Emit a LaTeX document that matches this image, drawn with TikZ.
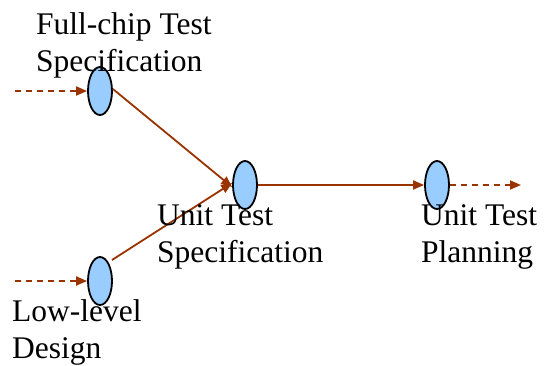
\documentclass[tikz,border=0pt]{standalone}
\usepackage{fontspec}
\setmainfont{Liberation Serif}
\usetikzlibrary{arrows.meta,shapes.geometric}
\definecolor{flow}{HTML}{993300}
\definecolor{bubble}{HTML}{99CCFF}
\begin{document}
\begin{tikzpicture}[x=1pt,y=-1pt,
  stage/.style={ellipse, draw=black, line width=1.8pt, fill=bubble,
    minimum width=24pt, minimum height=48pt, inner sep=0pt},
  flowline/.style={draw=flow, line width=1.8pt, -{Triangle[length=11pt,width=9pt]}},
  feed/.style={flowline, dash pattern=on 6pt off 5pt},
  caption/.style={anchor=base west, inner sep=0pt, align=left,
    font=\fontsize{31.5}{37}\selectfont}]
\useasboundingbox (0,0) rectangle (544,365);
% stage bubbles
\node[stage] (fc) at (100,91) {};
\node[stage] (ut) at (245,185) {};
\node[stage] (pl) at (437,185) {};
\node[stage] (ll) at (100,281) {};
% loose ends of the dashed feeds
\coordinate (fcin) at (15,91);
\coordinate (llin) at (15,281);
\coordinate (plout) at (521,185);
% connectors
\draw[feed] (fcin) -- (fc.west);
\draw[feed] (llin) -- (ll.west);
\draw[flowline] (fc.east) ++(0,-2) -- ([yshift=-2pt]ut.west);
\draw[flowline] (ll) ++(12,-21) -- ([yshift=2pt]ut.west);
\draw[flowline] (ut.east) -- (pl.west);
\draw[feed] (pl.east) -- (plout);
% captions (placed by the baseline of their last line)
\node[caption] (tfc) at (36,71) {Full-chip Test\\Specification};
\node[caption] (tut) at (157,262) {Unit Test\\Specification};
\node[caption] (tpl) at (421,262) {Unit Test\\Planning};
\node[caption] (tll) at (12,358) {Low-level\\Design};
\end{tikzpicture}
\end{document}
